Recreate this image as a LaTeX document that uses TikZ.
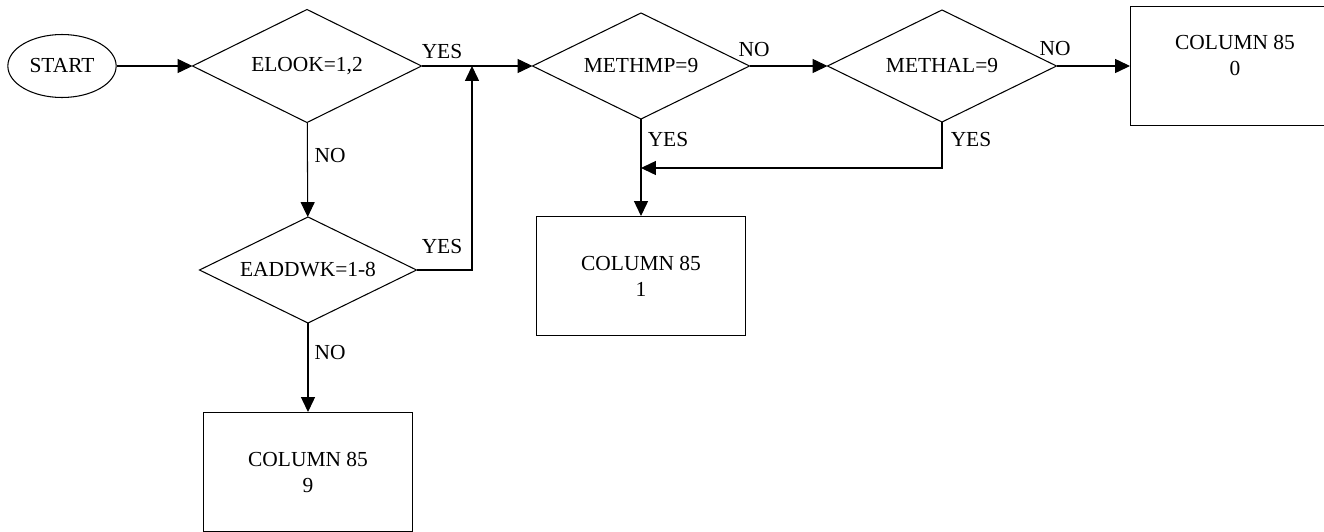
\documentclass[tikz,border=0pt]{standalone}
\usepackage{fontspec}
\setmainfont{Liberation Serif}
\usetikzlibrary{shapes, positioning, arrows.meta}

\begin{document}
\begin{tikzpicture}[x=0.02cm, y=-0.02cm, line width=0.6pt,
    every node/.style={font=\rmfamily\fontsize{12.2}{14.8}\selectfont},
    decision/.style={rectangle, inner sep=0pt, minimum width=4.4cm, minimum height=2.16cm},
    outbox/.style={rectangle, draw, align=center, minimum width=4.18cm, minimum height=2.38cm},
    flow/.style={-{Triangle[length=8.5pt, width=8pt]}}]
    \useasboundingbox (0,0) rectangle (1324,531);

    % start and the tests
    \node[ellipse, draw, minimum width=2.02cm, minimum height=1.26cm] (start) at (62,66) {START};
    \node[decision, minimum width=4.56cm, minimum height=2.24cm] (elook) at (307,66) {ELOOK=1,2};
    \node[decision, minimum width=4.32cm, minimum height=2.1cm] (methmp) at (641,66) {METHMP=9};
    \node[decision, minimum width=4.56cm, minimum height=2.22cm] (methal) at (942,66) {METHAL=9};
    \node[decision, minimum width=4.32cm, minimum height=2.1cm] (eaddwk) at (308,270) {EADDWK=1-8};
    \foreach \n in {elook, methmp, methal, eaddwk}
        \draw (\n.north) -- (\n.east) -- (\n.south) -- (\n.west) -- cycle;

    % results
    \node[outbox] (col0) at (1235,66) {};
    \node[align=center] (col0txt) at (1235,55) {COLUMN 85\\0};
    \node[outbox] (col1) at (641,276) {COLUMN 85\\1};
    \node[outbox] (col9) at (308,472) {COLUMN 85\\9};

    \coordinate (merge) at (472,66);
    \coordinate (join) at (641,168);

    % connectors
    \draw[flow] (start) -- (elook);
    \draw[flow] (elook.east) -- (methmp.west);
    \draw[flow] (methmp) -- (methal);
    \draw[flow] (methal) -- (col0);
    \draw[flow] (elook) -- (eaddwk);
    \draw[flow] (eaddwk) -- (col9);
    \draw[flow] (eaddwk.east) -| (merge);
    \draw[flow] (methmp) -- (col1);
    \draw[flow] (methal.south) |- (join);

    % branch labels
    \node (yes1) at (442,52) {YES};
    \node (no1) at (754,50) {NO};
    \node (no2) at (1055,49) {NO};
    \node (yes2) at (668,140) {YES};
    \node (yes3) at (971,140) {YES};
    \node (no3) at (330,156) {NO};
    \node (yes4) at (442,247) {YES};
    \node (no4) at (330,353) {NO};
\end{tikzpicture}
\end{document}
